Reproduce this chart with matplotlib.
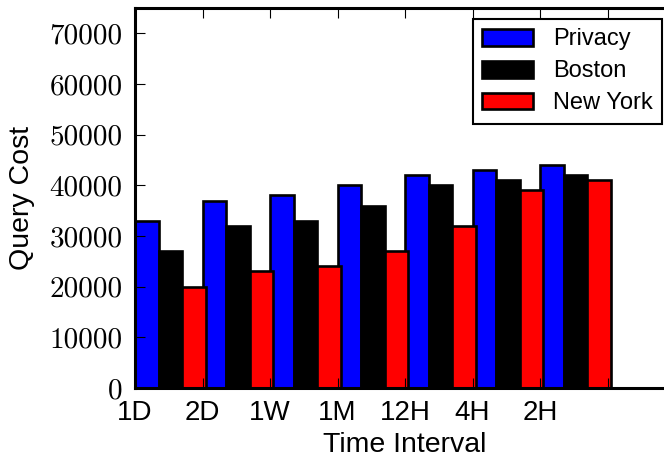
import matplotlib
matplotlib.use("Agg")
import matplotlib.pyplot as plt
import numpy as np

categories = ["1D", "2D", "1W", "1M", "12H", "4H", "2H"]
privacy = [33000, 37000, 38000, 40000, 42000, 43000, 44000]
boston = [27000, 32000, 33000, 36000, 40000, 41000, 42000]
newyork = [20000, 23000, 24000, 27000, 32000, 39000, 41000]
yticks = [0, 10000, 20000, 30000, 40000, 50000, 60000, 70000]

W, H = 664, 459
fig = plt.figure(figsize=(W / 100, H / 100), dpi=100)
left, right, top, bottom = 135, 675, 8, 388
ax = fig.add_axes([left / W, (H - bottom) / H, (right - left) / W, (bottom - top) / H])

x = np.arange(len(categories))
w = 0.35
ax.bar(x, privacy, w, align="edge", color="#0000ff", edgecolor="black", linewidth=1.9, label="Privacy")
ax.bar(x + w, boston, w, align="edge", color="black", edgecolor="black", linewidth=1.9, label="Boston")
ax.bar(x + 2 * w, newyork, w, align="edge", color="#ff0000", edgecolor="black", linewidth=1.9, label="New York")

ax.set_xlim(0, 8)
ax.set_ylim(0, 75000)
ax.set_xticks(np.arange(8))
ax.set_xticklabels(categories + [""], family="Liberation Sans", fontsize=20)
ax.set_yticks(yticks)
ax.set_yticklabels([str(v) for v in yticks], family="cmr10", fontsize=21)
ax.tick_params(direction="in", length=7, width=0.8, top=True, right=True)
ax.tick_params(axis="x", pad=9)
ax.tick_params(axis="y", pad=9)
for s in ax.spines.values():
    s.set_linewidth(2.2)

ax.set_xlabel("Time Interval", family="Liberation Sans", fontsize=20.5, labelpad=4)
ax.set_ylabel("Query Cost", family="Liberation Sans", fontsize=20.5, labelpad=10)

leg = ax.legend(loc="upper left", bbox_to_anchor=((473 - left) / (right - left), 1 - (19 - top) / (bottom - top)),
                borderaxespad=0, prop={"family": "Liberation Sans", "size": 17},
                fancybox=False, edgecolor="black", framealpha=1, handlelength=2.15, handleheight=0.72,
                handletextpad=0.85, labelspacing=0.42, borderpad=0.4)
leg.get_frame().set_linewidth(1.5)

fig.savefig("out.png", dpi=100)
